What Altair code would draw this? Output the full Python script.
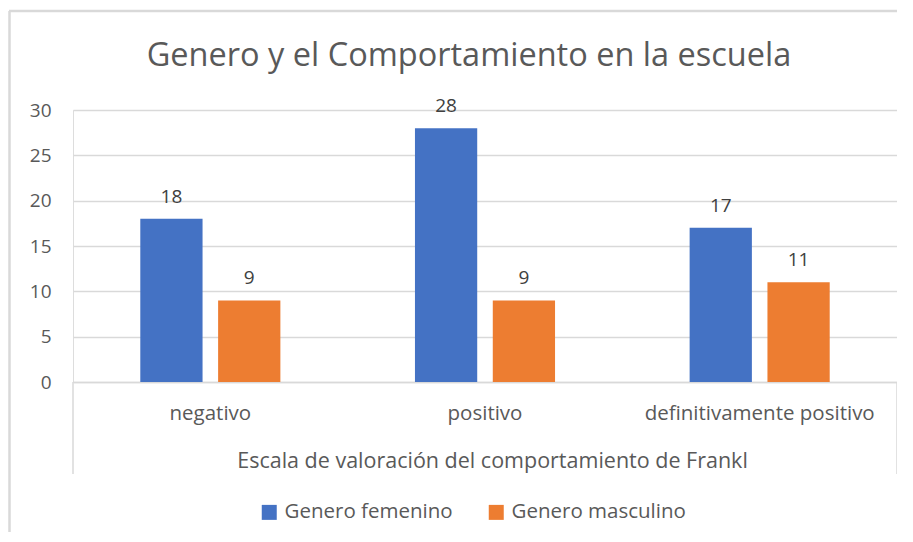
import altair as alt
import pandas as pd

title_text = "Genero y el Comportamiento en la escuela"
categories = ["negativo", "positivo", "definitivamente positivo"]
series = ["Genero femenino", "Genero masculino"]
femenino = [18, 28, 17]
masculino = [9, 9, 11]
colors = ["#4472C4", "#ED7D31"]
y_ticks = [0, 5, 10, 15, 20, 25, 30]

rows = []
for c, f, m in zip(categories, femenino, masculino):
    rows.append({"cat": c, "serie": series[0], "valor": f})
    rows.append({"cat": c, "serie": series[1], "valor": m})
df = pd.DataFrame(rows)

FONT = "Open Sans"
W, H = 824, 272

x = alt.X("cat:N", sort=categories,
          scale=alt.Scale(paddingInner=0.49, paddingOuter=0.245),
          axis=alt.Axis(title="Escala de valoración del comportamiento de Frankl",
                        labelAngle=0, ticks=False, domainColor="#d9d9d9",
                        domainWidth=1.5, labelFontSize=20.5, labelColor="#595959",
                        labelFont=FONT, labelPadding=21, labelLimit=0,
                        titleFont=FONT, titleFontSize=21.5, titleColor="#595959",
                        titleFontWeight="normal", titlePadding=27,
                        titleX=419, titleAlign="center"))
y = alt.Y("valor:Q", scale=alt.Scale(domain=[0, 30]),
          axis=alt.Axis(title=None, values=y_ticks, ticks=False, domain=False,
                        gridColor="#d9d9d9", gridWidth=1.5, labelFontSize=19,
                        labelColor="#595959", labelFont=FONT, labelPadding=22))
xo = alt.XOffset("serie:N", sort=series,
                 scale=alt.Scale(paddingInner=0.2, paddingOuter=0))
color = alt.Color("serie:N", sort=series,
                  scale=alt.Scale(domain=series, range=colors),
                  legend=alt.Legend(title=None, orient="none", direction="horizontal",
                                    legendX=186, legendY=392, symbolType="square",
                                    symbolSize=225, symbolStrokeWidth=0,
                                    labelFont=FONT, labelFontSize=20.5,
                                    labelColor="#595959", columnPadding=33,
                                    labelOffset=5, labelLimit=0))

base = alt.Chart(df)
bars = base.mark_bar().encode(x=x, y=y, xOffset=xo, color=color)
labels = base.mark_text(dy=-12, baseline="bottom", font=FONT, fontSize=19,
                        color="#404040").encode(
    x=alt.X("cat:N", sort=categories), y="valor:Q", xOffset=xo,
    text="valor:Q")

deco = pd.DataFrame({"k": [0]})
title_df = pd.DataFrame({"t": [title_text]})
title = alt.Chart(title_df).mark_text(font=FONT, fontSize=32.5, color="#595959",
                                      baseline="alphabetic", align="center").encode(
    x=alt.value(396), y=alt.value(-44), text="t:N")
left_line = alt.Chart(deco).mark_rule(color="#d9d9d9", strokeWidth=1.5).encode(
    x=alt.value(0), y=alt.value(H), y2=alt.value(H + 92))
right_line = alt.Chart(deco).mark_rule(color="#d9d9d9", strokeWidth=1.5).encode(
    x=alt.value(W), y=alt.value(H), y2=alt.value(H + 92))
frame_left = alt.Chart(deco).mark_rule(color="#d9d9d9", strokeWidth=2.5).encode(
    x=alt.value(-63.5), y=alt.value(-99), y2=alt.value(440))
frame_top = alt.Chart(deco).mark_rule(color="#d9d9d9", strokeWidth=2.5).encode(
    x=alt.value(-64), x2=alt.value(850), y=alt.value(-99))

chart = alt.layer(bars, labels, title, left_line, right_line, frame_left, frame_top).properties(
    width=W, height=H,
    autosize=alt.AutoSizeParams(type="none"),
    padding={"left": 65, "top": 102, "right": 0, "bottom": 150},
).configure_view(stroke=None).configure(background="white")

chart.save("out.html", embed_options={"renderer": "svg", "actions": False})
